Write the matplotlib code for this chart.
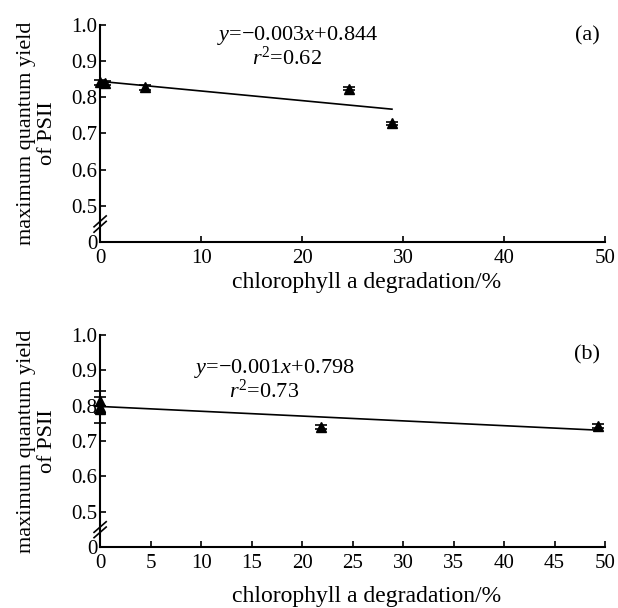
import matplotlib
matplotlib.use('Agg')
import matplotlib.pyplot as plt
import numpy as np

plt.rcParams['font.family'] = ['Liberation Serif', 'DejaVu Serif']
plt.rcParams['mathtext.fontset'] = 'custom'
plt.rcParams['mathtext.rm'] = 'Liberation Serif'
plt.rcParams['mathtext.it'] = 'Liberation Serif:italic'

# panel (a) data
a_x = [0, 0.5, 4.4, 24.6, 28.9]
a_y = [0.841, 0.840, 0.828, 0.824, 0.728]
a_err = [0.006, 0.006, 0.007, 0.005, 0.005]
a_fit = [0.844, -0.00266]   # intercept, slope of drawn line
a_fit_x = [0, 28.9]
a_eq = ['$y$=\u22120.003$x$+0.844', '$r^2$=0.62']

# panel (b) data
b_x = [0, 0, 0, 21.9, 49.3]
b_y = [0.812, 0.797, 0.790, 0.739, 0.742]
b_err = [0.013, 0.045, 0.010, 0.006, 0.006]
b_fit = [0.798, -0.00136]
b_fit_x = [0, 49.5]
b_eq = ['$y$=\u22120.001$x$+0.798', '$r^2$=0.73']

yticks = [0.4, 0.5, 0.6, 0.7, 0.8, 0.9, 1.0]
ytick_labels = ['0', '0.5', '0.6', '0.7', '0.8', '0.9', '1.0']

fig = plt.figure(figsize=(6.18, 6.08), dpi=100)
ax1 = fig.add_axes([0.162, 0.602, 0.817, 0.357])
ax2 = fig.add_axes([0.162, 0.100, 0.817, 0.349])


def draw_panel(ax, xs, ys, errs, fit, fit_x, eq, tag, xticks, eq_pos, tag_y, xpad):
    ax.errorbar(xs, ys, yerr=errs, fmt='^', color='black', ms=6.5,
                capsize=4, elinewidth=1.2, capthick=1.2, clip_on=False, zorder=3)
    fx = np.array(fit_x)
    ax.plot(fx, fit[0] + fit[1] * fx, color='black', lw=1.2)
    ax.set_xlim(0, 50)
    ax.set_ylim(0.4, 1.0)
    ax.set_xticks(xticks)
    ax.set_yticks(yticks)
    ax.set_yticklabels(ytick_labels)
    for s in ['top', 'right']:
        ax.spines[s].set_visible(False)
    for s in ['left', 'bottom']:
        ax.spines[s].set_linewidth(1.5)
    ax.tick_params(direction='in', length=4, width=1.2, labelsize=15, pad=2)
    ax.tick_params(axis='x', pad=5)
    ax.set_xlabel('chlorophyll a degradation/%', fontsize=17, labelpad=xpad,
                  x=0.527)
    ax.set_ylabel('maximum quantum yield\nof PSII', fontsize=16, labelpad=10,
                  linespacing=1.2)
    ax.text(eq_pos[0], eq_pos[1], eq[0], fontsize=16, ha='center',
            transform=ax.transAxes)
    ax.text(eq_pos[0] - 0.02, eq_pos[1] - 0.115, eq[1], fontsize=16,
            ha='center', transform=ax.transAxes)
    ax.text(0.965, tag_y, tag, fontsize=16, ha='center', transform=ax.transAxes)
    # axis break marks
    for dy in [0, 0.025]:
        ax.plot([-0.012, 0.012], [0.045 + dy, 0.095 + dy], color='black', lw=1.2,
                transform=ax.transAxes, clip_on=False)


draw_panel(ax1, a_x, a_y, a_err, a_fit, a_fit_x, a_eq, '(a)',
           [0, 10, 20, 30, 40, 50], (0.39, 0.93), 0.93, 3)
draw_panel(ax2, b_x, b_y, b_err, b_fit, b_fit_x, b_eq, '(b)',
           [0, 5, 10, 15, 20, 25, 30, 35, 40, 45, 50], (0.345, 0.82), 0.885, 9)

fig.savefig('out.png', dpi=100)
